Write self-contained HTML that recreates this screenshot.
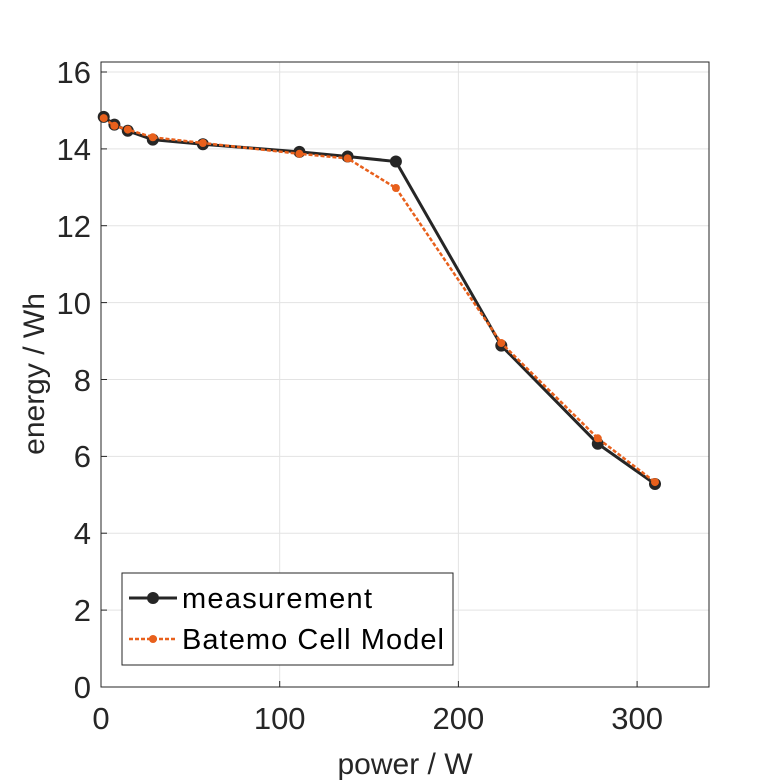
<!DOCTYPE html>
<html><head><meta charset="utf-8"><style>body{margin:0;background:#fff}svg{display:block}</style></head>
<body>
<svg width="781" height="781" xmlns="http://www.w3.org/2000/svg" font-family="Liberation Sans, sans-serif">
<rect width="781" height="781" fill="#fff"/>
<g stroke="#e3e3e3" stroke-width="1">
<line x1="279.7" y1="62" x2="279.7" y2="687"/><line x1="458.4" y1="62" x2="458.4" y2="687"/><line x1="637.1" y1="62" x2="637.1" y2="687"/>
<line x1="101" y1="610.1" x2="709" y2="610.1"/><line x1="101" y1="533.2" x2="709" y2="533.2"/><line x1="101" y1="456.4" x2="709" y2="456.4"/><line x1="101" y1="379.5" x2="709" y2="379.5"/><line x1="101" y1="302.6" x2="709" y2="302.6"/><line x1="101" y1="225.7" x2="709" y2="225.7"/><line x1="101" y1="148.9" x2="709" y2="148.9"/><line x1="101" y1="72" x2="709" y2="72"/>
</g>
<rect x="101" y="62" width="608" height="625" fill="none" stroke="#262626" stroke-width="1"/>
<g stroke="#262626"><line x1="279.7" y1="687" x2="279.7" y2="681"/><line x1="458.4" y1="687" x2="458.4" y2="681"/><line x1="637.1" y1="687" x2="637.1" y2="681"/>
<line x1="101" y1="610.1" x2="107" y2="610.1"/><line x1="101" y1="533.2" x2="107" y2="533.2"/><line x1="101" y1="456.4" x2="107" y2="456.4"/><line x1="101" y1="379.5" x2="107" y2="379.5"/><line x1="101" y1="302.6" x2="107" y2="302.6"/><line x1="101" y1="225.7" x2="107" y2="225.7"/><line x1="101" y1="148.9" x2="107" y2="148.9"/><line x1="101" y1="72" x2="107" y2="72"/></g>
<g fill="#262626" font-size="31" text-anchor="middle">
<text x="101" y="729">0</text><text x="279.7" y="729">100</text><text x="458.4" y="729">200</text><text x="637.1" y="729">300</text>
</g>
<g fill="#262626" font-size="31" text-anchor="end">
<text x="91" y="698">0</text><text x="91" y="621">2</text><text x="91" y="544">4</text><text x="91" y="467">6</text><text x="91" y="391">8</text><text x="91" y="314">10</text><text x="91" y="237">12</text><text x="91" y="160">14</text><text x="91" y="83">16</text>
</g>
<text x="405" y="774" font-size="30" fill="#262626" text-anchor="middle">power / W</text>
<text transform="translate(44,374) rotate(-90)" font-size="30" fill="#262626" text-anchor="middle">energy / Wh</text>
<g fill="#262626">
<polyline fill="none" stroke="#262626" stroke-width="3" points="103.7,116.9 114.4,124.6 127.8,130.8 152.8,139.6 202.9,144.2 299.4,151.9 347.6,156.5 395.9,161.5 501.3,345.6 597.8,443.7 655,484"/>
<circle cx="103.7" cy="116.9" r="6"/><circle cx="114.4" cy="124.6" r="6"/><circle cx="127.8" cy="130.8" r="6"/><circle cx="152.8" cy="139.6" r="6"/><circle cx="202.9" cy="144.2" r="6"/><circle cx="299.4" cy="151.9" r="6"/><circle cx="347.6" cy="156.5" r="6"/><circle cx="395.9" cy="161.5" r="6"/><circle cx="501.3" cy="345.6" r="6"/><circle cx="597.8" cy="443.7" r="6"/><circle cx="655" cy="484" r="6"/>
</g>
<g fill="#e8601c">
<polyline fill="none" stroke="#e8601c" stroke-width="2.5" stroke-dasharray="4,2" points="103.7,118.1 114.4,125.8 127.8,129.6 152.8,137.3 202.9,143 299.4,153.8 347.6,158.4 395.9,188 501.3,343 597.8,438.3 655,482.1"/>
<circle cx="103.7" cy="118.1" r="4"/><circle cx="114.4" cy="125.8" r="4"/><circle cx="127.8" cy="129.6" r="4"/><circle cx="152.8" cy="137.3" r="4"/><circle cx="202.9" cy="143" r="4"/><circle cx="299.4" cy="153.8" r="4"/><circle cx="347.6" cy="158.4" r="4"/><circle cx="395.9" cy="188" r="4"/><circle cx="501.3" cy="343" r="4"/><circle cx="597.8" cy="438.3" r="4"/><circle cx="655" cy="482.1" r="4"/>
</g>
<rect x="122" y="573" width="331" height="92" fill="#fff" stroke="#262626" stroke-width="1"/>
<line x1="129" y1="598" x2="177" y2="598" stroke="#262626" stroke-width="3"/><circle cx="153" cy="598" r="6" fill="#262626"/>
<text x="182" y="608" font-size="29" fill="#000" textLength="190">measurement</text>
<line x1="129" y1="639" x2="177" y2="639" stroke="#e8601c" stroke-width="2.5" stroke-dasharray="4,2"/><circle cx="153" cy="639" r="4" fill="#e8601c"/>
<text x="182" y="649" font-size="29" fill="#000" textLength="262">Batemo Cell Model</text>
</svg>
</body></html>
